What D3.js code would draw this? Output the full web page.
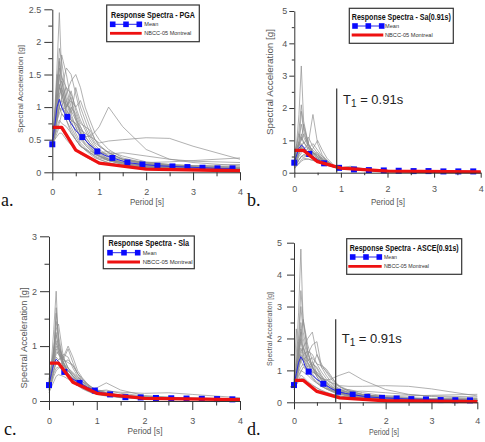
<!DOCTYPE html>
<html><head><meta charset="utf-8">
<script src="https://cdn.jsdelivr.net/npm/d3@7"></script>
<style>body{margin:0;background:#fff}svg{display:block}</style>
</head><body>
<svg id="c" width="485" height="442"></svg>
<script>
// ---------- DATA ----------
const periods = [0, 0.05, 0.1, 0.15, 0.2, 0.3, 0.4, 0.5, 0.6, 0.7, 0.8, 0.91, 1.0, 1.2, 1.5, 2.0, 2.5, 3.0, 4.0];
const xTicks = [0, 1, 2, 3, 4];

const recordsPGA = [
 [.43,.9,1.6,2.45,1.5,1.1,.8,.6,.45,.38,.3,.24,.2,.15,.1,.07,.05,.04,.03],
 [.43,.8,1.3,1.9,1.7,1.2,.9,.7,.5,.42,.35,.28,.25,.18,.12,.08,.06,.05,.04],
 [.43,.7,1.1,1.4,1.8,1.5,1.1,.8,.6,.5,.4,.32,.28,.2,.14,.1,.07,.06,.04],
 [.43,.6,.9,1.2,1.3,1.6,1.5,1.2,.9,.7,.55,.42,.35,.25,.18,.12,.09,.07,.05],
 [.43,.65,.95,1.1,1.0,1.2,1.4,1.5,1.3,1.0,.8,.6,.5,.35,.22,.14,.1,.08,.06],
 [.43,.7,1.0,1.3,1.2,.9,.8,.75,.6,.55,.55,.62,.7,1.0,.7,.35,.2,.15,.1],
 [.43,.6,.8,.9,1.0,.9,.8,.75,.65,.6,.55,.5,.45,.48,.5,.53,.52,.4,.2],
 [.43,.55,.7,.8,.75,.7,.6,.5,.4,.35,.3,.27,.25,.2,.17,.15,.16,.18,.22],
 [.43,.5,.6,.7,.65,.55,.45,.35,.28,.24,.2,.17,.15,.12,.1,.08,.07,.06,.05],
 [.43,.75,1.2,1.5,1.3,1.0,1.1,1.0,.8,.65,.5,.38,.32,.22,.15,.1,.08,.06,.05],
 [.43,.6,.85,1.0,1.15,1.3,1.2,1.0,1.1,.9,.7,.5,.4,.3,.2,.13,.1,.08,.06],
 [.43,.8,1.4,1.7,1.1,.8,.6,.5,.4,.35,.3,.25,.22,.18,.15,.12,.11,.1,.12],
 [.43,.55,.65,.75,.9,.8,.65,.5,.4,.36,.32,.3,.3,.28,.3,.25,.2,.17,.15],
 [.43,.7,1.1,1.3,1.4,1.1,.9,1.3,1.0,.8,.6,.45,.4,.3,.2,.12,.09,.07,.05],
 [.43,.9,1.2,1.0,.9,.8,1.0,.9,.7,.55,.45,.35,.3,.2,.14,.09,.07,.05,.04],
 [.43,.5,.55,.6,.6,.5,.42,.35,.3,.26,.22,.18,.16,.12,.09,.07,.06,.05,.04],
 [.43,.65,1.05,1.75,1.4,1.0,.7,.55,.42,.34,.28,.22,.2,.14,.1,.07,.05,.04,.03],
 [.43,.6,.8,1.0,.95,1.0,1.25,.95,.75,.7,.65,.5,.42,.3,.2,.14,.11,.09,.07],
 [.43,.55,.9,1.35,1.2,.95,.85,.7,.55,.45,.38,.3,.26,.2,.15,.1,.08,.06,.05],
 [.43,.7,1.25,1.6,1.45,1.3,1.0,.85,.65,.5,.4,.3,.25,.18,.12,.08,.06,.05,.04],
 [.43,.6,.75,1.0,1.1,1.05,.95,.8,.7,.55,.45,.36,.32,.25,.2,.15,.12,.1,.08],
 [.43,.8,1.5,1.3,1.25,.9,.75,.65,.55,.42,.35,.28,.24,.18,.13,.09,.07,.06,.04],
 [.43,.65,.85,1.15,1.3,1.0,1.15,.85,.6,.5,.42,.35,.3,.32,.25,.16,.12,.1,.08]
];
const recordsSa = [
 [.35,.9,1.8,3.3,1.6,.9,.6,.45,.35,.25,.2,.15,.13,.1,.07,.05,.04,.03,.02],
 [.25,.5,.9,1.9,1.3,.8,.5,.38,.3,.24,.19,.15,.13,.1,.07,.05,.04,.03,.02],
 [.5,.8,1.2,1.0,1.5,.9,.6,.45,.35,.27,.2,.15,.14,.11,.08,.06,.05,.04,.03],
 [.2,.35,.5,.6,.7,.9,1.8,.9,.55,.38,.27,.15,.13,.1,.07,.05,.04,.03,.02],
 [.15,.25,.4,.5,.55,.6,.75,1.0,.7,.45,.3,.15,.14,.12,.08,.06,.05,.04,.03],
 [.45,.7,.9,.75,.65,.55,.45,.38,.3,.25,.2,.15,.14,.11,.08,.06,.05,.04,.03],
 [.12,.2,.28,.35,.4,.42,.38,.33,.28,.23,.19,.15,.13,.1,.07,.05,.04,.03,.02],
 [.3,.45,.6,.8,.7,.6,.65,.5,.4,.3,.22,.15,.15,.2,.12,.07,.05,.04,.03],
 [.4,.6,.9,1.2,.9,1.1,.8,.6,.4,.3,.22,.15,.13,.1,.07,.05,.04,.03,.02],
 [.18,.28,.4,.5,.55,.5,.45,.4,.35,.28,.21,.15,.14,.16,.1,.07,.05,.04,.03],
 [.28,.45,.65,.8,.95,.7,.55,.45,.38,.32,.24,.15,.13,.1,.07,.05,.04,.03,.02],
 [.45,.7,1.0,1.5,1.1,.8,.6,.55,.45,.33,.24,.15,.13,.11,.08,.06,.05,.04,.03],
 [.22,.3,.4,.5,.48,.52,.58,.62,.5,.38,.26,.15,.14,.12,.09,.07,.06,.05,.04],
 [.35,.5,.7,.75,.7,.6,.45,.38,.3,.25,.2,.15,.12,.1,.07,.05,.04,.03,.02],
 [.15,.22,.3,.4,.45,.42,.38,.35,.3,.25,.2,.15,.15,.18,.1,.06,.05,.04,.03],
 [.5,.75,.95,.85,.75,.6,.5,.42,.35,.28,.21,.15,.13,.1,.07,.05,.04,.03,.02],
 [.3,.5,.8,1.1,.95,.75,.6,.5,.42,.32,.23,.15,.13,.1,.07,.05,.04,.03,.02],
 [.4,.6,.85,1.0,1.2,.85,.7,.55,.45,.35,.25,.15,.14,.12,.08,.06,.05,.04,.03],
 [.2,.35,.55,.7,.65,.75,.9,.7,.5,.36,.25,.15,.13,.11,.08,.06,.05,.04,.03],
 [.25,.4,.6,.9,.75,.58,.48,.4,.34,.27,.2,.15,.14,.13,.09,.06,.05,.04,.03],
 [.55,.85,1.3,2.1,1.4,.9,.65,.5,.4,.3,.22,.15,.13,.1,.07,.05,.04,.03,.02]
];
const recordsSIa = [
 [.3,.7,1.3,2.0,1.0,.6,.45,.35,.28,.22,.18,.14,.12,.09,.06,.04,.03,.025,.02],
 [.25,.5,.9,1.6,1.2,.7,.5,.4,.32,.25,.2,.16,.14,.1,.07,.05,.04,.03,.02],
 [.35,.6,1.0,1.3,1.4,.8,.6,.45,.35,.28,.22,.17,.15,.11,.08,.05,.04,.03,.025],
 [.2,.35,.55,.7,.75,.8,1.0,.8,.55,.42,.32,.24,.2,.15,.1,.07,.05,.04,.03],
 [.28,.45,.7,.9,.85,.75,.95,.7,.5,.4,.3,.22,.18,.13,.09,.06,.05,.04,.03],
 [.3,.5,.75,1.0,.9,.6,.45,.4,.35,.3,.25,.22,.24,.33,.2,.1,.07,.05,.04],
 [.22,.35,.5,.6,.62,.55,.5,.42,.35,.3,.26,.22,.2,.18,.16,.14,.15,.12,.06],
 [.4,.65,.95,1.1,.9,.7,.55,.45,.38,.3,.24,.18,.15,.11,.08,.06,.05,.04,.03],
 [.15,.25,.35,.45,.48,.45,.4,.35,.3,.25,.2,.16,.14,.1,.07,.05,.04,.03,.025],
 [.32,.55,.85,1.2,1.0,.75,.7,.65,.5,.35,.25,.18,.15,.11,.08,.05,.04,.03,.02],
 [.25,.4,.6,.8,.75,.85,.8,.6,.45,.35,.28,.2,.17,.12,.08,.06,.05,.04,.03],
 [.38,.6,.9,1.45,1.1,.7,.5,.38,.3,.24,.19,.15,.13,.1,.07,.05,.04,.03,.02],
 [.18,.3,.45,.55,.6,.65,.55,.5,.42,.36,.3,.24,.2,.15,.1,.07,.05,.04,.03],
 [.3,.5,.8,1.05,.95,.8,.6,.5,.4,.32,.25,.19,.16,.12,.09,.07,.06,.05,.04],
 [.25,.45,.75,.95,.85,.65,.55,.45,.36,.29,.23,.18,.15,.11,.08,.06,.05,.04,.03],
 [.35,.55,.85,1.25,.95,.7,.55,.47,.38,.3,.24,.19,.16,.12,.09,.06,.05,.04,.03],
 [.2,.35,.55,.7,.65,.7,.75,.65,.5,.4,.31,.24,.2,.15,.11,.08,.06,.05,.04],
 [.3,.5,.7,.85,.9,.7,.6,.52,.44,.36,.28,.21,.18,.2,.14,.09,.07,.05,.04],
 [.27,.48,.8,1.7,1.1,.65,.48,.38,.3,.24,.19,.15,.13,.1,.07,.05,.04,.03,.02]
];
const recordsASCE = [
 [.55,1.5,2.8,4.8,2.5,1.6,1.1,.8,.6,.5,.4,.33,.28,.2,.13,.09,.07,.05,.04],
 [.5,1.2,2.0,3.5,2.6,1.6,1.1,.8,.6,.48,.38,.3,.26,.19,.13,.09,.07,.05,.04],
 [.6,1.0,1.6,2.0,2.6,1.8,1.3,.9,.7,.55,.45,.36,.3,.22,.15,.1,.08,.06,.05],
 [.45,.7,1.1,1.5,1.7,2.0,2.2,1.5,1.1,.85,.65,.5,.42,.3,.2,.14,.1,.08,.06],
 [.5,.8,1.2,1.4,1.3,1.5,1.8,1.9,1.1,1.0,.8,.62,.5,.38,.25,.16,.12,.09,.07],
 [.55,.9,1.3,1.7,1.5,1.1,.95,.9,.75,.7,.72,.8,.85,.95,.7,.4,.25,.18,.12],
 [.5,.7,.95,1.1,1.2,1.05,.95,.85,.75,.7,.62,.56,.52,.5,.5,.52,.5,.42,.2],
 [.55,.7,.85,1.0,.95,.85,.7,.6,.5,.44,.38,.33,.3,.25,.22,.2,.2,.22,.25],
 [.4,.55,.7,.85,.8,.65,.55,.45,.36,.3,.26,.22,.2,.15,.12,.1,.08,.07,.06],
 [.6,1.0,1.6,2.0,1.7,1.3,1.4,1.2,.95,.75,.6,.46,.4,.28,.18,.12,.09,.07,.05],
 [.5,.75,1.1,1.3,1.5,1.6,1.5,1.2,1.15,1.05,.85,.6,.48,.35,.24,.15,.11,.09,.07],
 [.65,1.1,1.8,2.2,1.4,1.0,.75,.6,.5,.42,.36,.3,.27,.22,.18,.14,.12,.11,.13],
 [.45,.65,.8,.95,1.1,1.0,.8,.62,.5,.44,.4,.37,.36,.34,.35,.3,.24,.2,.17],
 [.55,.85,1.4,1.6,1.7,1.35,1.1,1.5,1.2,.95,.75,.55,.48,.35,.24,.15,.11,.08,.06],
 [.7,2.3,1.5,1.3,1.15,1.0,1.2,1.1,.85,.65,.55,.42,.36,.24,.17,.11,.08,.06,.05],
 [.4,.55,.65,.75,.75,.62,.52,.45,.38,.32,.27,.22,.2,.15,.11,.08,.07,.06,.05],
 [.5,.8,1.3,2.3,1.8,1.25,.9,.7,.52,.42,.35,.28,.25,.18,.12,.09,.07,.05,.04],
 [.5,.8,1.4,1.9,1.6,1.2,1.0,.85,.7,.55,.45,.36,.32,.25,.18,.12,.09,.07,.05],
 [.55,.9,1.5,2.5,2.0,1.4,1.1,.9,.75,.6,.48,.38,.33,.26,.2,.14,.1,.08,.06],
 [.45,.65,1.0,1.3,1.4,1.25,1.05,.95,.8,.62,.5,.4,.36,.3,.24,.17,.13,.1,.08],
 [.6,1.1,1.9,3.0,2.2,1.5,1.15,.9,.7,.55,.44,.35,.3,.22,.15,.1,.08,.06,.05],
 [.5,.75,1.15,1.5,1.35,1.1,1.25,1.05,.8,.62,.5,.42,.38,.4,.3,.2,.15,.12,.1]
];

const meanPeriods = [0,0.05,0.1,0.15,0.2,0.25,0.32,0.4,0.5,0.64,0.8,0.96,1.12,1.28,1.6,1.92,2.24,2.56,2.88,3.2,3.52,3.84];
const markerPeriods = [0,0.32,0.64,0.96,1.28,1.6,1.92,2.24,2.56,2.88,3.2,3.52,3.84];
const meanPGA  = [0.43,0.7,1.0,1.12,1.0,0.92,0.85,0.75,0.64,0.54,0.42,0.32,0.26,0.22,0.15,0.12,0.10,0.09,0.08,0.07,0.06,0.06];
const meanSa   = [0.31,0.55,0.75,0.85,0.8,0.68,0.58,0.5,0.4,0.29,0.21,0.15,0.12,0.10,0.08,0.07,0.06,0.05,0.05,0.04,0.04,0.04];
const meanSIa  = [0.29,0.5,0.68,0.76,0.72,0.62,0.53,0.46,0.4,0.33,0.25,0.19,0.15,0.12,0.07,0.065,0.055,0.05,0.045,0.04,0.035,0.03];
const meanASCE = [0.54,0.9,1.25,1.43,1.3,1.1,0.96,0.85,0.72,0.58,0.44,0.33,0.28,0.24,0.17,0.14,0.12,0.10,0.09,0.07,0.065,0.06];

const nbccPeriods = [0, 0.2, 0.5, 1.0, 2.0, 4.0];
const nbccValues  = [0.69, 0.69, 0.34, 0.14, 0.048, 0.024];

const yTicksPGA = [0, 0.5, 1, 1.5, 2, 2.5];
const yTicks5 = [0, 1, 2, 3, 4, 5];
const yTicks3 = [0, 1, 2, 3];
const T1 = 0.91, T1lineTop = 2.6;

// ---------- LAYOUT ----------
const panels = [
 {letter:"a.", lx:1, ly:206, title:"Response Spectra - PGA", recs:recordsPGA, mean:meanPGA,
  x0:52.3, x1:240, y0:172.3, y1:9.3, ymax:2.5, yTicks:yTicksPGA, yMinorStep:0.25, tick:8, lpad:3,
  ylab:{x:20, y:89, len:88, fs:8}, xlab:{x:147, y:205, len:34},
  leg:{x:106.7, y:5, w:92.6, h:36.7, ty:18, tlen:84, my:24.3, sq:[112.7,126,139.3], tx:144.3, ry:33.3, r0:110, r1:141.7, mlen:14, nlen:47}},
 {letter:"b.", lx:247, ly:206, title:"Response Spectra - Sa(0.91s)", recs:recordsSa, mean:meanSa, t1:{tx:343, ty:104},
  x0:294.3, x1:480.7, y0:172.7, y1:11, ymax:5, yTicks:yTicks5, yMinorStep:0.5, tick:5, lpad:2,
  ylab:{x:270, y:82, len:106, fs:8.5}, xlab:{x:388, y:205, len:34},
  leg:{x:349.3, y:8.3, w:104, h:35, ty:20, tlen:99, my:26, sq:[355,368.3,381.7], tx:385, ry:35, r0:351.7, r1:383.3, mlen:14, nlen:47.7}},
 {letter:"c.", lx:4, ly:435, title:"Response Spectra - Sla", recs:recordsSIa, mean:meanSIa,
  x0:49, x1:240, y0:401, y1:236.3, ymax:3, yTicks:yTicks3, yMinorStep:0.5, tick:9, lpad:3,
  ylab:{x:24, y:338, len:101, fs:8.5}, xlab:{x:145, y:434, len:35},
  leg:{x:103.3, y:236, w:91, h:32.7, ty:246, tlen:80.7, my:252.7, sq:[110,124,137.7], tx:142.7, ry:262, r0:107.3, r1:140, mlen:14, nlen:50}},
 {letter:"d.", lx:247, ly:435, title:"Response Spectra - ASCE(0.91s)", recs:recordsASCE, mean:meanASCE, t1:{tx:341.7, ty:343},
  x0:294, x1:477.3, y0:402.3, y1:242.7, ymax:5, yTicks:yTicks5, yMinorStep:0.5, tick:7, lpad:5,
  ylab:{x:269, y:329, len:74, fs:7.5}, xlab:{x:384, y:435, len:30},
  leg:{x:346.7, y:238.7, w:115, h:35.6, ty:251, tlen:109, my:257, sq:[352.7,366,379.3], tx:384, ry:266.3, r0:348.3, r1:381.7, mlen:13, nlen:45}}
];

const svg = d3.select("#c");
const FONT = "Arial, 'Liberation Sans', sans-serif";

panels.forEach(p => {
  const g = svg.append("g");
  const x = d3.scaleLinear().domain([0, 4]).range([p.x0, p.x1]);
  const y = d3.scaleLinear().domain([0, p.ymax]).range([p.y0, p.y1]);

  // records
  const recLine = d3.line().x((d, i) => x(periods[i])).y(d => y(d));
  g.append("g").selectAll("path").data(p.recs).join("path")
    .attr("d", recLine).attr("fill", "none")
    .attr("stroke", "#8c8c8c").attr("stroke-width", 0.8).attr("stroke-opacity", 0.85);

  // mean
  const meanPts = p.mean.map((v, i) => [meanPeriods[i], v]);
  const ml = d3.line().x(d => x(d[0])).y(d => y(d[1]));
  g.append("path").attr("d", ml(meanPts)).attr("fill", "none")
    .attr("stroke", "#2a2ae6").attr("stroke-width", 1);
  const marks = meanPts.filter(d => markerPeriods.includes(d[0]));
  g.append("g").selectAll("rect").data(marks).join("rect")
    .attr("x", d => x(d[0]) - 3).attr("y", d => y(d[1]) - 3)
    .attr("width", 6).attr("height", 6).attr("fill", "#0a0aff");

  // NBCC
  const nb = nbccPeriods.map((t, i) => [t, nbccValues[i]]);
  g.append("path").attr("d", ml(nb)).attr("fill", "none")
    .attr("stroke", "#ee1111").attr("stroke-width", 3.3).attr("stroke-linejoin", "round");

  // axes
  const yMinor = d3.range(0, p.ymax + 1e-9, p.yMinorStep).filter(v => !p.yTicks.some(t => Math.abs(t - v) < 1e-9));
  g.append("g").attr("transform", `translate(${p.x0},0)`)
    .call(d3.axisLeft(y).tickValues(p.yTicks).tickSize(p.tick).tickSizeOuter(0).tickPadding(p.lpad).tickFormat(d3.format("~g")));
  g.append("g").attr("transform", `translate(${p.x0},0)`)
    .call(d3.axisLeft(y).tickValues(yMinor).tickSize(p.tick / 2).tickSizeOuter(0).tickFormat(""))
    .select(".domain").remove();
  const xMinor = [0.5, 1.5, 2.5, 3.5];
  g.append("g").attr("transform", `translate(0,${p.y0})`)
    .call(d3.axisBottom(x).tickValues(xTicks).tickSize(p.tick).tickSizeOuter(0).tickPadding(8).tickFormat(d3.format("~g")));
  g.append("g").attr("transform", `translate(0,${p.y0})`)
    .call(d3.axisBottom(x).tickValues(xMinor).tickSize(p.tick / 2).tickSizeOuter(0).tickFormat(""))
    .select(".domain").remove();
  g.selectAll(".domain, .tick line").attr("stroke", "#333").attr("stroke-width", 1);
  g.selectAll(".tick text").attr("fill", "#555").attr("font-family", FONT).attr("font-size", 9);

  // axis labels
  g.append("text").attr("transform", `translate(${p.ylab.x},${p.ylab.y}) rotate(-90)`)
    .attr("text-anchor", "middle").attr("dy", "0.35em")
    .attr("font-family", FONT).attr("font-size", p.ylab.fs).attr("fill", "#555")
    .attr("textLength", p.ylab.len).attr("lengthAdjust", "spacingAndGlyphs")
    .text("Spectral Acceleration [g]");
  g.append("text").attr("x", p.xlab.x).attr("y", p.xlab.y).attr("text-anchor", "middle")
    .attr("font-family", FONT).attr("font-size", 9).attr("fill", "#555")
    .attr("textLength", p.xlab.len).attr("lengthAdjust", "spacingAndGlyphs")
    .text("Period [s]");

  // T1 marker
  if (p.t1) {
    g.append("line").attr("x1", x(T1)).attr("x2", x(T1)).attr("y1", y(0)).attr("y2", y(T1lineTop))
      .attr("stroke", "#333").attr("stroke-width", 1.2);
    const t = g.append("text").attr("x", p.t1.tx).attr("y", p.t1.ty)
      .attr("font-family", FONT).attr("font-size", 13).attr("fill", "#222");
    t.append("tspan").text("T");
    t.append("tspan").attr("dy", 3).attr("font-size", 10).text("1");
    t.append("tspan").attr("dy", -3).text(" = 0.91s");
  }

  // legend
  const L = p.leg;
  const lg = g.append("g");
  lg.append("rect").attr("x", L.x).attr("y", L.y).attr("width", L.w).attr("height", L.h)
    .attr("fill", "#fff").attr("stroke", "#333").attr("stroke-width", 1.2);
  lg.append("text").attr("x", L.x + (L.w - L.tlen) / 2).attr("y", L.ty)
    .attr("font-family", FONT).attr("font-weight", "bold").attr("font-size", 8.5).attr("fill", "#111")
    .attr("textLength", L.tlen).attr("lengthAdjust", "spacingAndGlyphs").text(p.title);
  lg.append("line").attr("x1", L.sq[0]).attr("x2", L.sq[2]).attr("y1", L.my).attr("y2", L.my)
    .attr("stroke", "#2a2ae6").attr("stroke-width", 1);
  lg.selectAll("rect.sq").data(L.sq).join("rect").attr("class", "sq")
    .attr("x", d => d - 2.8).attr("y", L.my - 2.8).attr("width", 5.6).attr("height", 5.6).attr("fill", "#0a0aff");
  lg.append("text").attr("x", L.tx).attr("y", L.my + 2).attr("font-family", FONT).attr("font-size", 5.5)
    .attr("fill", "#333").attr("textLength", L.mlen).attr("lengthAdjust", "spacingAndGlyphs").text("Mean");
  lg.append("line").attr("x1", L.r0).attr("x2", L.r1).attr("y1", L.ry).attr("y2", L.ry)
    .attr("stroke", "#ee1111").attr("stroke-width", 2.8);
  lg.append("text").attr("x", L.tx).attr("y", L.ry + 2).attr("font-family", FONT).attr("font-size", 5.5)
    .attr("fill", "#333").attr("textLength", L.nlen).attr("lengthAdjust", "spacingAndGlyphs").text("NBCC-05 Montreal");

  // panel letter
  svg.append("text").attr("x", p.lx).attr("y", p.ly)
    .attr("font-family", "'Liberation Serif', 'Times New Roman', serif").attr("font-size", 18)
    .attr("fill", "#111").text(p.letter);
});
</script>
</body></html>
